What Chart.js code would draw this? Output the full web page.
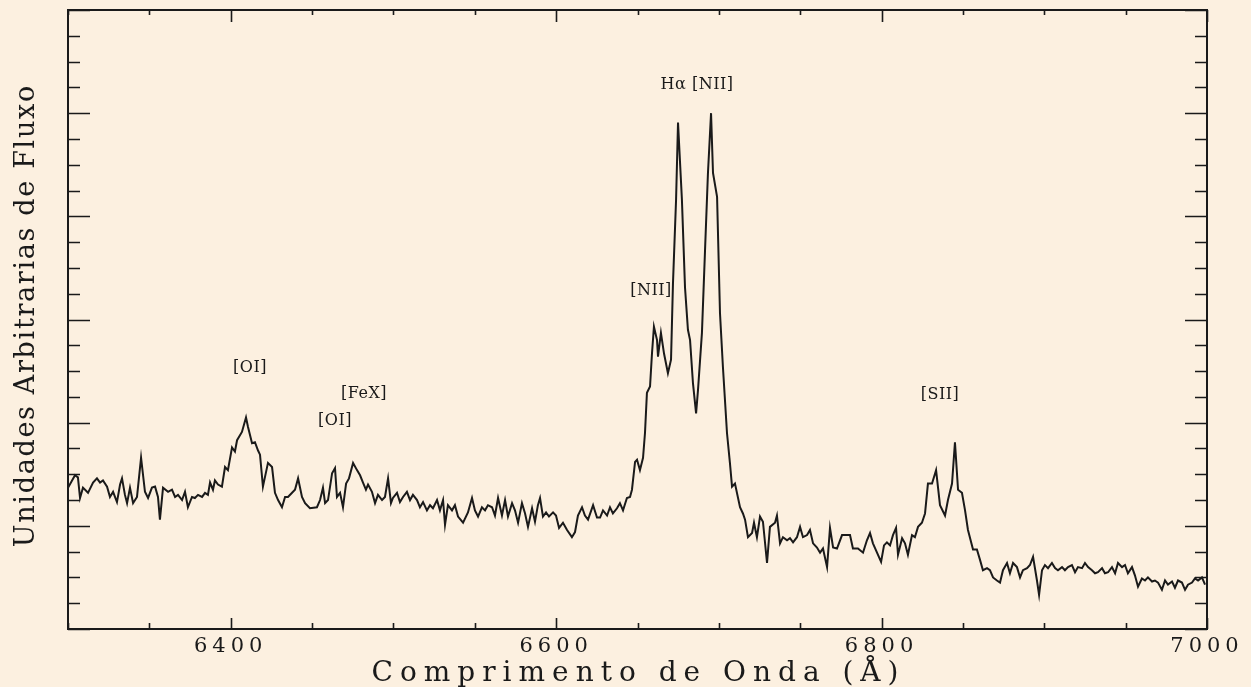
<!DOCTYPE html>
<html lang="pt">
<head>
<meta charset="utf-8">
<title>Espectro</title>
<script src="https://cdn.jsdelivr.net/npm/chart.js@4.4.1/dist/chart.umd.min.js"></script>
<style>
  html, body { margin: 0; padding: 0; background: #fcf0e0; }
  #espectro { display: block; background: #fcf0e0; }
</style>
</head>
<body>
<canvas id="espectro" width="1251" height="687"></canvas>
<script>
// --- Espectro: comprimento de onda (Å) e fluxo (unidades arbitrárias) ---

// [OI] 6300/6364
const comprimentoA = [6300.0, 6304.3, 6306.1, 6307.4, 6309.2, 6312.3, 6315.4, 6317.8, 6319.7, 6321.5,
  6324.0, 6325.8, 6327.7, 6330.1, 6332.0, 6333.2, 6335.0, 6336.3, 6338.1, 6340.0,
  6342.4, 6344.9, 6347.3, 6349.2, 6351.6, 6353.5, 6355.3, 6356.5, 6358.4, 6361.5,
  6363.9, 6365.8, 6367.6, 6370.1, 6371.9, 6373.7, 6376.2, 6378.0, 6379.9, 6382.4,
  6384.2, 6386.0, 6387.3, 6389.1, 6390.3, 6392.2, 6394.6, 6396.5, 6398.3, 6400.8,
  6402.6, 6403.9, 6406.9, 6409.4, 6410.6, 6413.1, 6414.9, 6416.8];
const fluxoA = [1.37, 1.49, 1.47, 1.27, 1.37, 1.32, 1.42, 1.46, 1.42, 1.44,
  1.38, 1.28, 1.33, 1.23, 1.40, 1.46, 1.30, 1.22, 1.37, 1.22,
  1.28, 1.66, 1.33, 1.27, 1.37, 1.38, 1.28, 1.06, 1.37, 1.33,
  1.35, 1.28, 1.30, 1.25, 1.33, 1.18, 1.28, 1.27, 1.30, 1.28,
  1.32, 1.30, 1.42, 1.35, 1.44, 1.40, 1.38, 1.57, 1.54, 1.76,
  1.72, 1.83, 1.91, 2.05, 1.96, 1.80, 1.81, 1.73];

// [OI] e [FeX]
const comprimentoB = [6418.0, 6419.8, 6422.9, 6425.4, 6427.2, 6429.1, 6431.5, 6433.4, 6435.2, 6437.7,
  6439.5, 6441.4, 6443.8, 6445.7, 6448.7, 6453.0, 6454.9, 6456.7, 6458.0, 6459.8,
  6462.3, 6464.1, 6465.3, 6467.2, 6469.0, 6470.9, 6472.7, 6475.2, 6477.6, 6479.5,
  6481.3, 6483.1, 6484.4, 6486.8, 6488.7, 6490.5, 6493.0, 6494.8, 6496.7, 6498.5,
  6499.7, 6502.2, 6504.0, 6505.9, 6508.3, 6510.2, 6512.0, 6514.5, 6516.3, 6518.2,
  6520.6, 6522.5, 6524.3, 6526.8, 6528.6, 6530.5, 6531.7, 6533.5, 6536.0, 6537.8, 6539.7];
const fluxoB = [1.69, 1.38, 1.61, 1.57, 1.32, 1.25, 1.18, 1.28, 1.28, 1.32,
  1.35, 1.46, 1.28, 1.22, 1.17, 1.18, 1.25, 1.37, 1.22, 1.25,
  1.51, 1.56, 1.28, 1.32, 1.18, 1.41, 1.46, 1.61, 1.54, 1.49,
  1.42, 1.35, 1.40, 1.33, 1.22, 1.30, 1.25, 1.28, 1.46, 1.22,
  1.27, 1.32, 1.23, 1.28, 1.33, 1.25, 1.30, 1.25, 1.18, 1.23,
  1.15, 1.20, 1.17, 1.25, 1.15, 1.25, 1.01, 1.20, 1.15, 1.20, 1.09];

// contínuo antes de Hα
const comprimentoC = [6542.8, 6545.8, 6548.3, 6550.1, 6552.0, 6554.4, 6556.3, 6558.1, 6560.6, 6562.4,
  6564.3, 6566.7, 6568.6, 6570.4, 6572.9, 6574.7, 6576.6, 6579.0, 6580.9, 6582.7,
  6585.2, 6587.0, 6588.8, 6590.1, 6591.9, 6593.8, 6595.6, 6598.1, 6599.9, 6601.8,
  6604.2, 6606.7, 6609.7, 6611.6, 6613.4, 6615.9, 6617.7, 6619.6, 6622.7, 6625.1,
  6627.0, 6628.8, 6631.3, 6633.1, 6634.9, 6637.4, 6639.2, 6641.1, 6643.5, 6645.4,
  6646.6, 6648.5, 6649.7, 6651.5, 6653.4];
const fluxoC = [1.03, 1.13, 1.27, 1.15, 1.09, 1.18, 1.15, 1.20, 1.18, 1.10,
  1.27, 1.10, 1.25, 1.09, 1.22, 1.15, 1.03, 1.22, 1.12, 0.99,
  1.17, 1.04, 1.20, 1.27, 1.09, 1.13, 1.09, 1.13, 1.10, 0.98,
  1.03, 0.96, 0.89, 0.94, 1.10, 1.18, 1.10, 1.06, 1.20, 1.08,
  1.08, 1.15, 1.10, 1.18, 1.12, 1.17, 1.22, 1.15, 1.27, 1.28,
  1.35, 1.62, 1.64, 1.54, 1.66];

// [NII] 6548, Hα e [NII] 6583
const comprimentoD = [6654.6, 6655.8, 6657.7, 6658.9, 6660.1, 6662.0, 6662.6, 6664.4, 6666.3, 6668.7,
  6670.6, 6671.8, 6673.7, 6674.9, 6677.3, 6679.2, 6681.0, 6682.3, 6684.1, 6686.0,
  6687.2, 6689.6, 6691.5, 6693.3, 6695.2, 6696.4, 6698.9, 6700.7, 6702.5, 6705.0,
  6706.8, 6708.1, 6709.9, 6713.0, 6714.8];
const fluxoD = [1.90, 2.29, 2.35, 2.67, 2.93, 2.80, 2.64, 2.87, 2.67, 2.48,
  2.61, 3.35, 4.16, 4.91, 4.16, 3.31, 2.90, 2.80, 2.38, 2.09,
  2.32, 2.87, 3.67, 4.42, 5.00, 4.42, 4.19, 3.06, 2.54, 1.90,
  1.61, 1.38, 1.41, 1.18, 1.12];

// contínuo e [SII]
const comprimentoE = [6716.1, 6717.9, 6720.4, 6721.6, 6723.4, 6725.3, 6727.1, 6729.6, 6731.4, 6734.5,
  6735.7, 6737.6, 6739.4, 6741.9, 6743.7, 6745.6, 6748.0, 6749.9, 6751.7, 6754.2,
  6756.0, 6757.9, 6760.3, 6762.2, 6764.0, 6766.5, 6768.3, 6770.2, 6772.6, 6775.7,
  6778.8, 6780.6, 6782.4, 6785.5, 6788.6, 6791.0, 6792.9, 6794.7, 6797.2, 6799.7,
  6801.5, 6803.3, 6805.2, 6807.0, 6808.9, 6810.1, 6812.6, 6814.4, 6816.2, 6818.7,
  6820.5, 6822.4, 6824.8, 6826.7, 6828.5, 6831.0, 6833.5, 6835.9, 6839.0, 6840.8,
  6843.3, 6845.1, 6847.0, 6849.4, 6851.3, 6853.1, 6856.2, 6858.6];
const fluxoE = [1.06, 0.89, 0.93, 1.03, 0.89, 1.09, 1.04, 0.64, 0.99, 1.03,
  1.10, 0.83, 0.89, 0.86, 0.88, 0.84, 0.89, 0.99, 0.89, 0.91,
  0.96, 0.83, 0.79, 0.74, 0.78, 0.60, 0.98, 0.79, 0.78, 0.91,
  0.91, 0.91, 0.78, 0.78, 0.74, 0.86, 0.93, 0.83, 0.74, 0.65,
  0.81, 0.84, 0.81, 0.91, 0.98, 0.72, 0.88, 0.83, 0.72, 0.91,
  0.89, 0.99, 1.03, 1.12, 1.41, 1.41, 1.54, 1.20, 1.10, 1.25,
  1.41, 1.81, 1.35, 1.32, 1.15, 0.96, 0.77, 0.77];

// contínuo vermelho
const comprimentoF = [6860.5, 6862.3, 6864.8, 6866.6, 6868.5, 6870.9, 6872.8, 6874.6, 6877.1, 6878.9,
  6880.8, 6883.2, 6885.1, 6886.9, 6889.4, 6891.2, 6893.1, 6895.5, 6896.8, 6898.6,
  6900.4, 6902.3, 6904.7, 6906.6, 6908.4, 6910.9, 6912.7, 6914.6, 6917.0, 6918.9,
  6920.7, 6923.2, 6925.0, 6926.9, 6929.3, 6931.2, 6933.0, 6935.5, 6937.3, 6939.2,
  6941.6, 6943.5, 6945.3, 6947.8, 6949.6, 6951.4, 6953.9, 6955.7, 6957.6, 6960.0,
  6961.9, 6963.7, 6966.2, 6968.0, 6969.9, 6972.3, 6974.2, 6976.0, 6978.5, 6980.3,
  6982.2, 6984.6, 6986.5, 6988.3, 6990.8, 6992.6, 6994.5, 6996.9, 6998.8];
const fluxoF = [0.67, 0.57, 0.59, 0.57, 0.50, 0.47, 0.45, 0.57, 0.64, 0.54,
  0.64, 0.60, 0.50, 0.57, 0.59, 0.62, 0.70, 0.47, 0.33, 0.57,
  0.62, 0.59, 0.64, 0.59, 0.57, 0.60, 0.57, 0.60, 0.62, 0.55,
  0.60, 0.59, 0.64, 0.60, 0.57, 0.54, 0.55, 0.59, 0.54, 0.55,
  0.60, 0.54, 0.64, 0.60, 0.62, 0.54, 0.60, 0.52, 0.41, 0.49,
  0.47, 0.50, 0.46, 0.47, 0.45, 0.38, 0.47, 0.43, 0.46, 0.40,
  0.47, 0.45, 0.38, 0.43, 0.45, 0.49, 0.47, 0.50, 0.43];

// rótulos do eixo x
const rotulosX = [6400, 6600, 6800, 7000];

// identificação das linhas (texto, λ, fluxo)
const linhas = [
  ["[OI]", 6411.9, 2.53],
  ["[FeX]", 6481.9, 2.28],
  ["[OI]", 6464.1, 2.02],
  ["[NII]", 6658.3, 3.28],
  ["Hα [NII]", 6686.6, 5.27],
  ["[SII]", 6835.9, 2.27]
];

const comprimentos = [].concat(comprimentoA, comprimentoB, comprimentoC, comprimentoD, comprimentoE, comprimentoF);
const fluxos = [].concat(fluxoA, fluxoB, fluxoC, fluxoD, fluxoE, fluxoF);
const pontos = comprimentos.map((l, i) => ({ x: l, y: fluxos[i] }));

const SERIF = '"DejaVu Serif", "Liberation Serif", serif';
const TINTA = '#1a1a1a';

// texto com espaçamento entre letras ajustado para ocupar uma largura
function textoEspacado(ctx, txt, x, y, largura) {
  ctx.letterSpacing = '0px';
  const w = ctx.measureText(txt).width;
  const esp = Math.max(0, (largura - w) / txt.length);
  ctx.letterSpacing = esp + 'px';
  ctx.fillText(txt, x + esp / 2, y);
  ctx.letterSpacing = '0px';
}

// rótulos dos ticks largos como no gráfico impresso
const espacoLetras = {
  id: 'espacoLetras',
  beforeDraw(chart) { chart.ctx.letterSpacing = '5px'; },
  afterDraw(chart) { chart.ctx.letterSpacing = '0px'; }
};

// moldura com ticks para dentro, títulos e nomes das linhas
const moldura = {
  id: 'moldura',
  afterDraw(chart) {
    const { ctx, chartArea: a, scales: { x, y } } = chart;
    ctx.save();
    ctx.letterSpacing = '0px';
    ctx.strokeStyle = TINTA;
    ctx.lineWidth = 2;
    ctx.strokeRect(a.left, a.top, a.right - a.left, a.bottom - a.top);

    ctx.lineWidth = 1.6;
    ctx.beginPath();
    x.ticks.forEach(t => {
      const px = Math.round(x.getPixelForValue(t.value)) + 0.5;
      const maior = t.value % 200 === 0;
      ctx.moveTo(px, a.bottom); ctx.lineTo(px, a.bottom - (maior ? 11 : 6));
      ctx.moveTo(px, a.top); ctx.lineTo(px, a.top + (maior ? 12 : 5));
    });
    y.ticks.forEach(t => {
      const py = Math.round(y.getPixelForValue(t.value)) + 0.5;
      const maior = Number.isInteger(t.value);
      const len = maior ? 22 : 12;
      ctx.moveTo(a.left, py); ctx.lineTo(a.left + len, py);
      ctx.moveTo(a.right, py); ctx.lineTo(a.right - len, py);
    });
    ctx.stroke();

    ctx.fillStyle = TINTA;
    ctx.textAlign = 'center';

    // título do eixo x
    ctx.font = '28px ' + SERIF;
    ctx.textBaseline = 'alphabetic';
    textoEspacado(ctx, 'Comprimento de Onda (Å)', 635, 681, 534);

    // título do eixo y
    ctx.save();
    ctx.translate(27, (a.top + a.bottom) / 2 - 3);
    ctx.rotate(-Math.PI / 2);
    ctx.font = '27px ' + SERIF;
    ctx.textBaseline = 'middle';
    textoEspacado(ctx, 'Unidades Arbitrarias de Fluxo', 0, 0, 463);
    ctx.restore();

    // nomes das linhas espectrais
    ctx.font = '16px ' + SERIF;
    ctx.textBaseline = 'middle';
    ctx.letterSpacing = '0.5px';
    linhas.forEach(([txt, l, f]) => {
      ctx.fillText(txt, x.getPixelForValue(l), y.getPixelForValue(f));
    });
    ctx.restore();
  }
};

new Chart(document.getElementById('espectro'), {
  type: 'line',
  data: {
    datasets: [{
      data: pontos,
      borderColor: TINTA,
      borderWidth: 2,
      pointRadius: 0,
      tension: 0,
      fill: false
    }]
  },
  options: {
    responsive: false,
    animation: false,
    devicePixelRatio: 1,
    layout: { padding: { left: 68, right: 44, top: 10, bottom: 0 } },
    plugins: { legend: { display: false }, tooltip: { enabled: false } },
    scales: {
      x: {
        type: 'linear',
        min: 6300,
        max: 7000,
        grid: { display: false, drawTicks: false },
        border: { display: false },
        ticks: {
          stepSize: 50,
          autoSkip: false,
          maxRotation: 0,
          padding: 5,
          color: TINTA,
          font: { family: SERIF, size: 21 },
          callback: v => rotulosX.includes(v) ? String(v) : ''
        },
        afterFit(s) { s.height = 58; }
      },
      y: {
        min: 0,
        max: 6,
        grid: { display: false, drawTicks: false },
        border: { display: false },
        ticks: { stepSize: 0.25, display: false },
        afterFit(s) { s.width = 0; }
      }
    }
  },
  plugins: [espacoLetras, moldura]
});
</script>
</body>
</html>
